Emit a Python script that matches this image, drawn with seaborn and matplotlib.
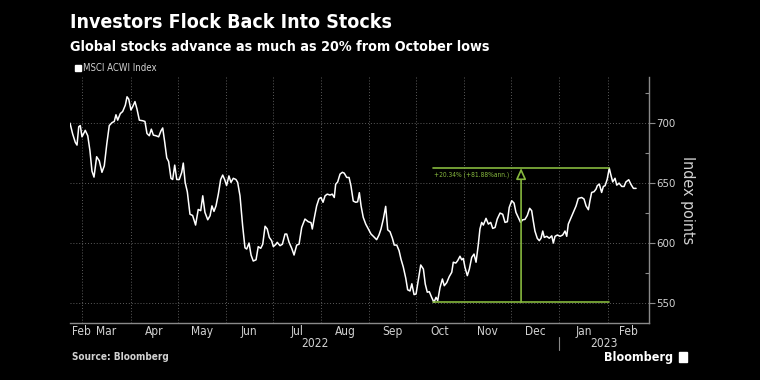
import matplotlib.pyplot as plt
import matplotlib.dates as mdates
import matplotlib.ticker as mticker
import matplotlib.transforms as mtransforms
from matplotlib.patches import Rectangle
import pandas as pd
import seaborn as sns

# MSCI ACWI index (days after 2022-02-21, index level)
start = pd.Timestamp("2022-02-21")
days = [0.0, 1.7, 3.4, 4.5, 5.6, 6.6, 7.7, 9.8, 11.4, 12.8, 14.1, 15.4, 17.1, 18.8, 20.5,
        22.0, 23.6, 25.2, 27.0, 28.4, 29.5, 30.6, 32.3, 33.8, 35.5, 36.6, 37.7, 39.1, 40.2,
        41.7, 43.0, 44.5, 46.7, 48.1, 49.4, 50.9, 52.2, 53.5, 55.2, 56.9, 58.4, 59.5, 60.8,
        62.1, 63.3, 64.8, 65.9, 67.2, 68.5, 70.1, 71.7, 72.7, 73.9, 75.3, 77.0, 78.7, 80.6,
        82.3, 83.9, 85.2, 86.6, 88.4, 89.9, 91.1, 92.4, 93.7, 95.2, 96.7, 98.0, 99.3, 100.5,
        102.0, 103.3, 104.8, 106.5, 107.6, 109.1, 110.8, 112.3, 113.4, 114.9, 116.2, 117.6,
        119.4, 120.8, 122.4, 123.7, 125.2, 126.6, 127.9, 129.4, 130.5, 132.2, 133.0, 134.8,
        136.3, 138.0, 139.1, 140.6, 142.3, 143.8, 145.5, 147.0, 148.7, 150.8, 152.9, 154.7,
        155.5, 156.8, 158.3, 159.8, 161.1, 162.4, 163.7, 165.1, 166.9, 168.3, 169.6, 170.5,
        171.8, 173.3, 174.8, 176.0, 177.6, 179.1, 180.3, 181.8, 183.4, 184.6, 185.7, 186.8,
        188.2, 189.8, 191.5, 193.2, 194.7, 196.8, 198.3, 199.6, 201.1, 202.6, 203.9, 205.4,
        206.9, 208.1, 209.7, 211.2, 212.4, 213.9, 215.5, 216.7, 218.2, 219.4, 220.8, 222.1,
        223.5, 225.1, 226.8, 228.0, 229.3, 230.6, 232.1, 233.6, 234.9, 236.0, 237.5, 239.0,
        240.2, 241.8, 243.4, 245.0, 246.0, 247.6, 248.8, 250.3, 251.4, 252.4, 253.5, 255.0,
        256.3, 257.8, 259.3, 260.6, 262.0, 263.1, 264.2, 265.3, 267.0, 268.5, 270.0, 271.3,
        272.8, 274.2, 276.0, 277.7, 279.2, 280.7, 281.9, 283.5, 285.0, 286.2, 287.7, 289.2,
        290.5, 292.0, 293.5, 295.0, 296.3, 297.3, 298.4, 299.9, 301.2, 302.3, 303.4, 304.4,
        306.0, 307.6, 309.2, 310.2, 311.3, 312.8, 314.5, 316.2, 317.7, 318.8, 319.8, 321.4,
        323.0, 324.8, 326.2, 328.4, 329.9, 331.2, 332.7, 333.7, 334.8, 336.3, 337.6, 338.4,
        339.7, 341.2, 342.3, 343.4, 344.8, 346.1, 347.0, 348.3, 349.8, 350.9, 352.4, 354.1,
        355.6, 356.8, 358.6, 359.9, 361.6, 363.3]
values = [700, 691, 684, 681.7, 697, 698, 688.6, 694, 689.5, 677, 660, 655, 672, 668.6, 659,
          664.4, 682.5, 698, 700.5, 701.4, 707, 702.5, 708, 709.7, 715, 722, 720, 711, 713.6,
          718, 711.7, 702.5, 702, 701.4, 691.4, 689.5, 695, 690, 689.5, 688.6, 693.6, 696, 684,
          671, 668, 654, 653, 665, 653, 653, 659, 666.7, 650.6, 642.7, 624, 623, 615,
          628, 627, 639.4, 625.6, 619.4, 622.8, 631, 626.4, 631, 640.8, 653, 656.7, 652.8, 648,
          656, 650.6, 654, 653, 650.6, 639.4, 614.4, 596, 595, 600, 590, 585,
          586, 597, 595.6, 599, 614, 611.7, 604.7, 602, 597, 599, 600.6, 597.8,
          599, 607.5, 607.5, 600.6, 595.6, 590, 598.3, 599, 613, 620, 617.8, 617,
          611.7, 621, 631, 637, 638, 634, 639.4, 640.8, 640, 640.8, 638, 649,
          651, 657.5, 659, 658.3, 654.7, 654.7, 647.8, 635, 634, 634.4, 642, 631,
          621.4, 615.8, 611.7, 607.5, 605.6, 602.8, 606.7, 611.7, 620, 630.6, 611, 609.4,
          604, 598.3, 598.3, 593.6, 586.7, 580, 570.6, 561, 560, 566, 557, 557.5,
          568.6, 581.7, 578.3, 565.8, 559, 559.4, 554.7, 550.5, 554.7, 552, 563, 570,
          564.4, 567, 572, 575.6, 584, 583.3, 585.3, 589, 586, 587.2, 579.7, 572.8,
          578.3, 588, 590.8, 584, 598.3, 611.7, 617.2, 615, 620.6, 615.8, 617.2, 612.2,
          613, 620, 625, 624, 617.2, 617.8, 629.7, 635.3, 633.3, 625.6, 621.4, 617.2,
          619.4, 619.7, 623, 629, 627, 618.6, 610, 603.9, 602, 604, 610, 604.7,
          605.6, 604, 606, 600, 605.6, 606.7, 605.6, 606.7, 610, 605.6, 615.8, 620.6,
          625.6, 631, 637.2, 638, 636.7, 631, 627.8, 635.3, 642.2, 642.8, 645, 647.8,
          649.2, 642.2, 647.2, 647.8, 653.3, 662.5, 657.5, 651, 654, 648.3, 650, 647.2,
          647.2, 651, 652.8, 649.2, 645.6, 645.6]

low_date, low_val = "2022-10-12", 550.5
peak_date, peak_val = "2023-02-02", 662.5
gain_label = "+20.34% (+81.88%ann.)"
month_names = ["Feb", "Mar", "Apr", "May", "Jun", "Jul", "Aug", "Sep", "Oct", "Nov", "Dec",
               "Jan", "Feb"]
years = ["2022", "2023"]

green = "#86b83e"
grey = "#8a8a8a"
txt = "#d2d2d2"

sns.set_theme(style="dark")
plt.rcParams["font.family"] = ["DejaVu Sans"]
plt.rcParams["font.stretch"] = "condensed"

df = pd.DataFrame({"date": start + pd.to_timedelta(days, unit="D"), "value": values})

fig = plt.figure(figsize=(7.6, 3.8), dpi=100, facecolor="black")
ax = fig.add_axes([70 / 760, 1 - 323 / 380, 579 / 760, 246 / 380])
ax.set_facecolor("black")

sns.lineplot(data=df, x="date", y="value", ax=ax, color="white", linewidth=1.1)

x0 = start
x1 = start + pd.Timedelta(days=371.6)
ax.set_xlim(x0, x1)
ax.set_ylim(533.3, 738.5)

# gain annotation
lo = pd.Timestamp(low_date)
hi = pd.Timestamp(peak_date)
mid = lo + (hi - lo) / 2
ax.plot([lo, hi], [low_val, low_val], color=green, lw=1.2)
ax.plot([lo, hi], [peak_val, peak_val], color=green, lw=1.2)
ax.annotate("", xy=(mid, peak_val), xytext=(mid, low_val),
            arrowprops=dict(arrowstyle="-|>,head_length=0.55,head_width=0.25",
                            ec=green, fc="black", lw=1.2, shrinkA=0, shrinkB=0))
ax.text(lo + pd.Timedelta(days=0.8), peak_val - 2.5, gain_label, color=green,
        fontsize=4.8, ha="left", va="top")

# axes styling
ax.yaxis.tick_right()
ax.yaxis.set_label_position("right")
ax.yaxis.set_major_locator(mticker.MultipleLocator(50))
ax.yaxis.set_minor_locator(mticker.MultipleLocator(25))
ax.tick_params(axis="y", which="major", direction="out", length=4, width=0.8, pad=1.2,
               colors=grey, labelcolor=txt, labelsize=8.2)
ax.tick_params(axis="y", which="minor", direction="in", length=3, width=0.8, colors=grey)
ax.set_ylabel("Index points", rotation=270, color=txt, fontsize=11.5, labelpad=14)
ax.set_xlabel("")

ax.xaxis.set_major_locator(mdates.MonthLocator())
ax.xaxis.set_major_formatter(mticker.NullFormatter())
ax.tick_params(axis="x", which="major", direction="out", length=3, width=0.8, colors=grey)

ax.grid(True, which="major", color="#5c5c5c", linestyle=(0, (1, 2)), linewidth=0.7)
for side in ["left", "top"]:
    ax.spines[side].set_visible(False)
for side in ["right", "bottom"]:
    ax.spines[side].set_visible(True)
    ax.spines[side].set_color(grey)
    ax.spines[side].set_linewidth(1.0)

# month / year labels
trans = mtransforms.blended_transform_factory(ax.transData, ax.transAxes)
bounds = [x0] + list(pd.date_range("2022-03-01", "2023-02-01", freq="MS")) + [x1]
for i, name in enumerate(month_names):
    a, b = bounds[i], bounds[i + 1]
    if i == 0:
        ax.text(a + pd.Timedelta(days=1.5), -0.033, name, transform=trans, ha="left",
                va="center", color=txt, fontsize=8.6)
    else:
        ax.text(a + (b - a) / 2, -0.033, name, transform=trans, ha="center",
                va="center", color=txt, fontsize=8.6)
jan = pd.Timestamp("2023-01-01")
ax.text(x0 + (jan - x0) / 2, -0.084, years[0], transform=trans, ha="center", va="center",
        color=txt, fontsize=8.6)
ax.text(jan + (x1 - jan) / 2, -0.084, years[1], transform=trans, ha="center", va="center",
        color=txt, fontsize=8.6)
ax.plot([jan, jan], [-0.057, -0.11], transform=trans, color=grey, lw=0.8, clip_on=False)

# titles and legend
fig.text(70 / 760, 1 - 23 / 380, "Investors Flock Back Into Stocks", color="white",
         fontsize=14, fontweight="bold", ha="left", va="center")
fig.text(70 / 760, 1 - 47 / 380, "Global stocks advance as much as 20% from October lows",
         color="white", fontsize=10.3, fontweight="bold", ha="left", va="center")
fig.patches.append(Rectangle((75 / 760, 1 - 71 / 380), 6 / 760, 6 / 380, color="white",
                             transform=fig.transFigure, figure=fig))
fig.text(83 / 760, 1 - 68 / 380, "MSCI ACWI Index", color=txt, fontsize=6.9,
         ha="left", va="center")

fig.text(72 / 760, 1 - 357 / 380, "Source: Bloomberg", color=txt, fontsize=7.2,
         fontweight="bold", ha="left", va="center")
fig.text(673 / 760, 1 - 357 / 380, "Bloomberg", color="white", fontsize=9,
         fontweight="bold", ha="right", va="center")
fig.patches.append(Rectangle((679 / 760, 1 - 362 / 380), 8 / 760, 10 / 380, color="white",
                             transform=fig.transFigure, figure=fig))

fig.savefig("out.png", dpi=100, facecolor="black")
